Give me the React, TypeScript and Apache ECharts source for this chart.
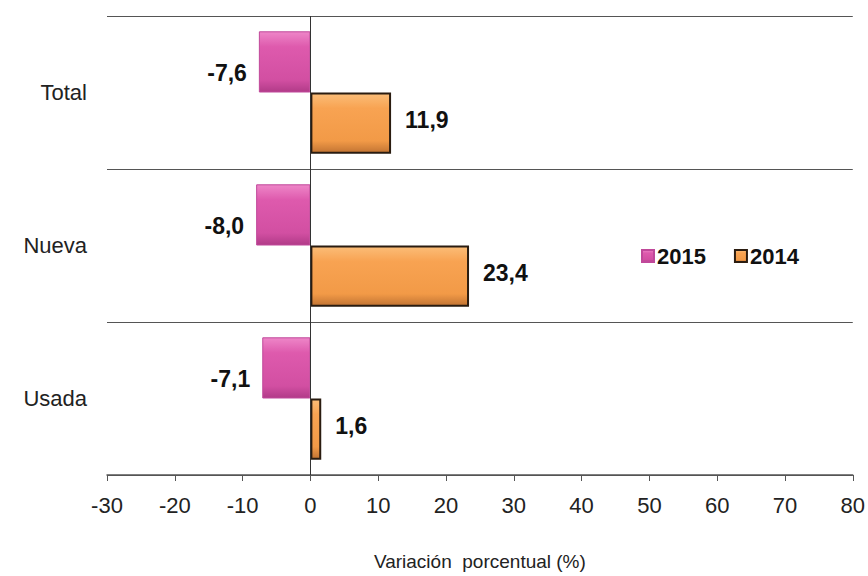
import React, { useEffect, useRef } from "react";
import * as echarts from "echarts";

const categories = ["Total", "Nueva", "Usada"];
const values2015 = [-7.6, -8.0, -7.1];
const values2014 = [11.9, 23.4, 1.6];
const seriesNames = ["2015", "2014"];

const FONT = '"Liberation Sans", Arial, sans-serif';

const fmt = (v: number) => v.toFixed(1).replace(".", ",");

const pinkFill = new echarts.graphic.LinearGradient(0, 0, 0, 1, [
  { offset: 0, color: "#ee86c8" },
  { offset: 0.25, color: "#de5aad" },
  { offset: 0.8, color: "#d24fa2" },
  { offset: 1, color: "#b13b88" },
]);

const orangeFill = new echarts.graphic.LinearGradient(0, 0, 0, 1, [
  { offset: 0, color: "#fbbd78" },
  { offset: 0.25, color: "#f8a352" },
  { offset: 0.8, color: "#f29a47" },
  { offset: 1, color: "#c27433" },
]);

const App: React.FC = () => {
  const chartRef = useRef<HTMLDivElement | null>(null);

  useEffect(() => {
    if (!chartRef.current) return;
    const chart = echarts.init(chartRef.current, undefined, { renderer: "svg" });

    chart.setOption({
      animation: false,
      backgroundColor: "#ffffff",
      textStyle: { fontFamily: FONT },
      grid: { left: 107, right: 13, top: 16, bottom: 96 },
      legend: {
        left: 636,
        top: 240,
        icon: "rect",
        itemWidth: 12,
        itemHeight: 12,
        itemGap: 28,
        data: seriesNames,
        textStyle: { fontSize: 22, fontWeight: "bold", color: "#111", fontFamily: FONT, padding: [0, 0, 0, -2] },
      },
      xAxis: {
        type: "value",
        min: -30,
        max: 80,
        interval: 10,
        name: "Variación  porcentual (%)",
        nameLocation: "middle",
        nameGap: 77,
        nameTextStyle: { fontSize: 19, color: "#222", fontFamily: FONT },
        axisLine: { show: true, onZero: false, lineStyle: { color: "#555", width: 1.5 } },
        axisTick: { show: true, length: 6, lineStyle: { color: "#555" } },
        axisLabel: { fontSize: 22, color: "#222", margin: 19, fontFamily: FONT },
        splitLine: { show: false },
      },
      yAxis: {
        type: "category",
        inverse: true,
        data: categories,
        axisLine: { show: false },
        axisTick: { show: false },
        axisLabel: { fontSize: 22, color: "#222", margin: 20, fontFamily: FONT },
        splitLine: { show: true, lineStyle: { color: "#555", width: 1.2 } },
      },
      series: [
        {
          name: seriesNames[0],
          type: "bar",
          data: values2015,
          barGap: "0%",
          barCategoryGap: "20%",
          itemStyle: { color: pinkFill, borderColor: "#c0489a", borderWidth: 1 },
          label: {
            show: true,
            position: "left",
            distance: 12,
            offset: [0, 11],
            formatter: (p: any) => fmt(p.value),
            fontSize: 23,
            fontWeight: "bold",
            color: "#111",
            fontFamily: FONT,
          },
          markLine: {
            silent: true,
            symbol: "none",
            label: { show: false },
            lineStyle: { color: "#333", width: 1, type: "solid" },
            data: [{ xAxis: 0 }],
          },
        },
        {
          name: seriesNames[1],
          type: "bar",
          data: values2014,
          barGap: "0%",
          barCategoryGap: "20%",
          itemStyle: { color: orangeFill, borderColor: "#2a1c10", borderWidth: 2 },
          label: {
            show: true,
            position: "right",
            distance: 14,
            offset: [0, -3],
            formatter: (p: any) => fmt(p.value),
            fontSize: 23,
            fontWeight: "bold",
            color: "#111",
            fontFamily: FONT,
          },
        },
      ],
    });

    return () => {
      chart.dispose();
    };
  }, []);

  return (
    <div
      ref={chartRef}
      style={{ position: "fixed", left: 0, top: 0, width: 868, height: 576 }}
    />
  );
};

export default App;
